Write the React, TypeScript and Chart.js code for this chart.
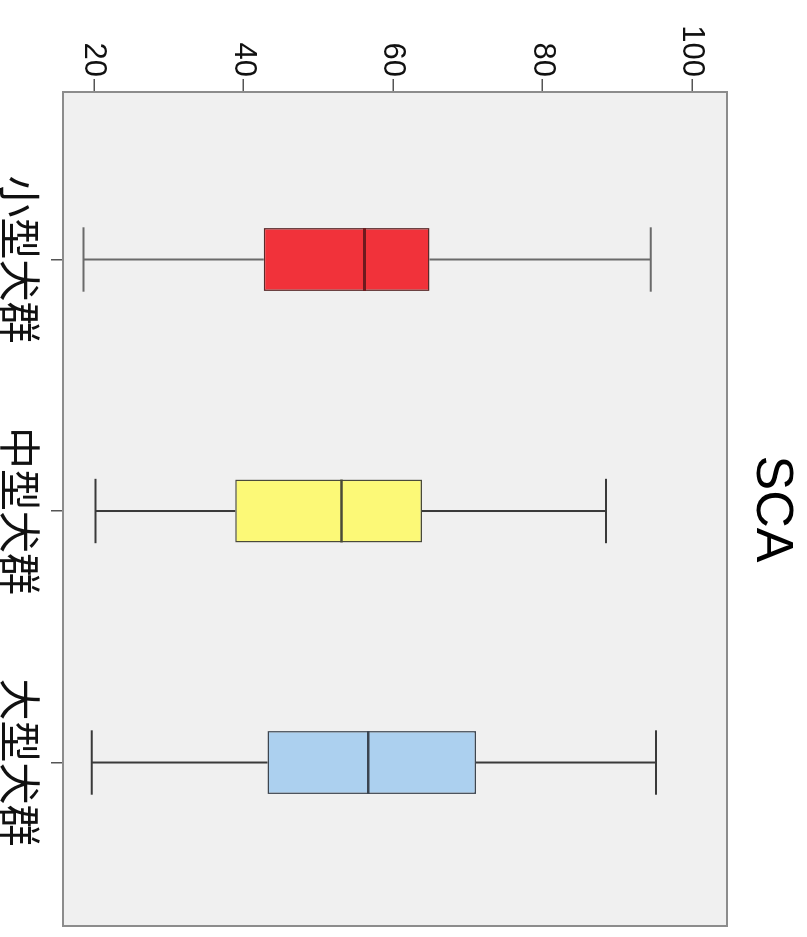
import React, { useEffect, useRef } from "react";
import { Chart, registerables } from "chart.js";

Chart.register(...registerables);

// ---- data ----
const categories = ["小型犬群", "中型犬群", "大型犬群"];
const whiskerLow = [18.6, 20.2, 19.7];
const q1 = [42.7, 38.9, 43.2];
const median = [56.2, 53.1, 56.7];
const q3 = [64.9, 63.9, 71.1];
const whiskerHigh = [94.5, 88.5, 95.2];
const valueTicks = [20, 40, 60, 80, 100];
const chartTitle = "SCA";

// ---- styles ----
const boxColors = ["#f1323a", "#fcf977", "#acd0ef"];
const boxBorderColors = ["#5a2a2a", "#4a4a3a", "#3e4650"];
const medianColors = ["#6e1a1e", "#4a4a38", "#3a4450"];
const whiskerColors = ["#6a6a6a", "#3a3a3a", "#3a3a3a"];
const BOX_W = 0.25; // in category units
const CAP_W = 0.128;

const W = 937; // unrotated canvas width (becomes page height)
const H = 807; // unrotated canvas height (becomes page width)

const boxPlugin = {
  id: "boxplotParts",
  beforeDraw(chart: any) {
    const { ctx, chartArea } = chart;
    ctx.save();
    ctx.fillStyle = "#ffffff";
    ctx.fillRect(0, 0, chart.width, chart.height);
    ctx.fillStyle = "#f0f0f0";
    ctx.fillRect(chartArea.left, chartArea.top, chartArea.right - chartArea.left, chartArea.bottom - chartArea.top);
    ctx.restore();
  },
  beforeDatasetsDraw(chart: any) {
    const { ctx } = chart;
    const x = chart.scales.x;
    const y = chart.scales.y;
    ctx.save();
    categories.forEach((_, i) => {
      const cx = x.getPixelForValue(i);
      const half = Math.abs(x.getPixelForValue(i + CAP_W) - cx);
      const yLo = y.getPixelForValue(whiskerLow[i]);
      const yHi = y.getPixelForValue(whiskerHigh[i]);
      const yQ1 = y.getPixelForValue(q1[i]);
      const yQ3 = y.getPixelForValue(q3[i]);
      ctx.strokeStyle = whiskerColors[i];
      ctx.lineWidth = 2;
      ctx.beginPath();
      ctx.moveTo(cx, yLo);
      ctx.lineTo(cx, yQ1);
      ctx.moveTo(cx, yQ3);
      ctx.lineTo(cx, yHi);
      ctx.moveTo(cx - half, yLo);
      ctx.lineTo(cx + half, yLo);
      ctx.moveTo(cx - half, yHi);
      ctx.lineTo(cx + half, yHi);
      ctx.stroke();
    });
    ctx.restore();
  },
  afterDatasetsDraw(chart: any) {
    const { ctx } = chart;
    const x = chart.scales.x;
    const y = chart.scales.y;
    ctx.save();
    categories.forEach((_, i) => {
      const cx = x.getPixelForValue(i);
      const half = Math.abs(x.getPixelForValue(i + BOX_W / 2) - cx);
      const ym = y.getPixelForValue(median[i]);
      ctx.strokeStyle = medianColors[i];
      ctx.lineWidth = i === 0 ? 3 : 2.5;
      ctx.beginPath();
      ctx.moveTo(cx - half, ym);
      ctx.lineTo(cx + half, ym);
      ctx.stroke();
    });
    ctx.restore();
  },
  afterDraw(chart: any) {
    const { ctx, chartArea } = chart;
    ctx.save();
    ctx.strokeStyle = "#8c8c8c";
    ctx.lineWidth = 2;
    ctx.strokeRect(chartArea.left, chartArea.top, chartArea.right - chartArea.left, chartArea.bottom - chartArea.top);
    ctx.fillStyle = "#000000";
    ctx.font = '52px "Liberation Sans", Arial, sans-serif';
    ctx.textAlign = "center";
    ctx.textBaseline = "middle";
    ctx.fillText(chartTitle, (chartArea.left + chartArea.right) / 2, 36);
    ctx.restore();
  },
};

export default function App() {
  const canvasRef = useRef<HTMLCanvasElement | null>(null);

  useEffect(() => {
    const canvas = canvasRef.current;
    if (!canvas) return;
    const chart = new Chart(canvas, {
      type: "bar",
      data: {
        datasets: [
          {
            data: categories.map((_, i) => ({ x: i, y: [q1[i], q3[i]] })) as any,
            backgroundColor: boxColors,
            borderColor: boxBorderColors,
            borderWidth: 1.5,
            borderSkipped: false,
            barPercentage: BOX_W,
            categoryPercentage: 1,
          },
        ],
      },
      options: {
        animation: false,
        responsive: false,
        devicePixelRatio: 1,
        layout: { padding: { top: 80, right: 11, left: 0, bottom: 0 } },
        plugins: {
          legend: { display: false },
          tooltip: { enabled: false },
          title: { display: false },
        },
        scales: {
          x: {
            type: "linear",
            min: -0.666,
            max: 2.65,
            offset: false,
            afterBuildTicks: (s: any) => {
              s.ticks = categories.map((_, i) => ({ value: i }));
            },
            afterFit: (s: any) => {
              s.height = 63;
            },
            border: { display: false },
            grid: {
              display: true,
              offset: false,
              drawOnChartArea: false,
              drawTicks: true,
              tickLength: 12,
              tickColor: "#555555",
              lineWidth: 1.5,
            },
            ticks: {
              autoSkip: false,
              maxRotation: 0,
              minRotation: 0,
              padding: 6,
              color: "#111111",
              font: { family: '"Noto Sans CJK SC", "Noto Sans CJK JP", sans-serif', size: 42 },
              callback: (v: any) => categories[Math.round(Number(v))] ?? "",
            },
          },
          y: {
            type: "linear",
            min: 15.85,
            max: 104.7,
            afterBuildTicks: (s: any) => {
              s.ticks = valueTicks.map((v) => ({ value: v }));
            },
            afterFit: (s: any) => {
              s.width = 92;
            },
            border: { display: false },
            grid: {
              display: true,
              drawOnChartArea: false,
              drawTicks: true,
              tickLength: 13,
              tickColor: "#555555",
              lineWidth: 1.5,
            },
            ticks: {
              padding: 2,
              color: "#111111",
              font: { family: '"Liberation Sans", Arial, sans-serif', size: 31 },
              callback: (v: any) => String(v),
            },
          },
        },
      },
      plugins: [boxPlugin],
    });
    return () => chart.destroy();
  }, []);

  return (
    <div
      style={{
        position: "absolute",
        left: 0,
        top: 0,
        width: H,
        height: W,
        overflow: "hidden",
        background: "#ffffff",
      }}
    >
      <div
        style={{
          position: "absolute",
          left: 0,
          top: 0,
          width: W,
          height: H,
          transformOrigin: "top left",
          transform: `translate(${H}px, 0px) rotate(90deg)`,
        }}
      >
        <canvas ref={canvasRef} width={W} height={H} style={{ width: W, height: H, display: "block" }} />
      </div>
    </div>
  );
}
